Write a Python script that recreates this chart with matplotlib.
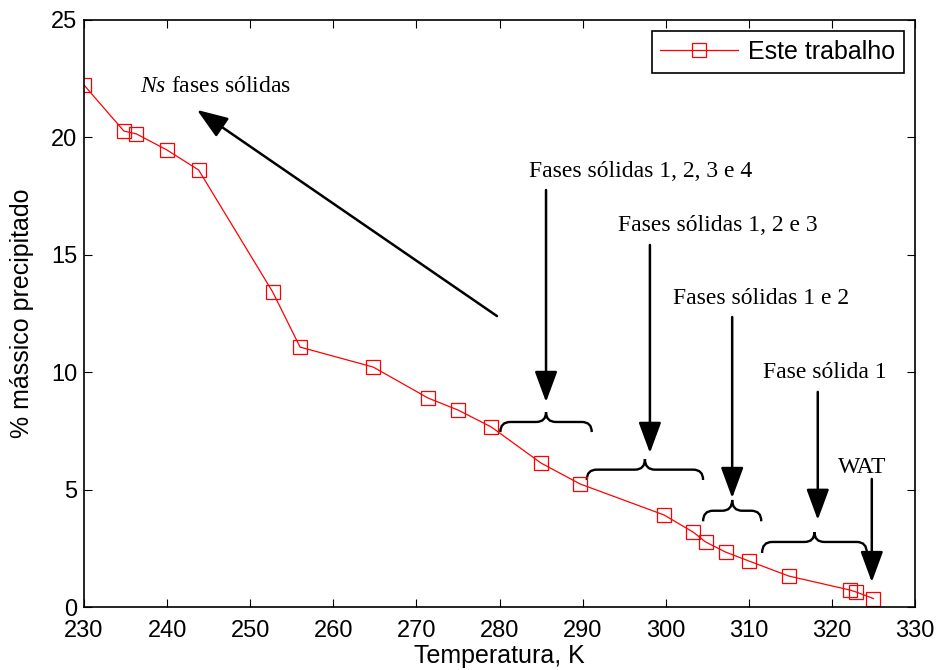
import numpy as np
import matplotlib
matplotlib.use("Agg")
from matplotlib import pyplot as plt
from matplotlib.path import Path
from matplotlib.patches import PathPatch

# data
temperatura = [230.0, 234.8, 236.3, 240.0, 243.8, 252.7, 256.0, 264.8, 271.4, 275.0,
               279.0, 285.0, 289.7, 299.8, 303.3, 304.8, 307.2, 310.0, 314.8, 322.2,
               322.9, 325.0]
precipitado = [22.23, 20.27, 20.15, 19.46, 18.61, 13.42, 11.07, 10.22, 8.90, 8.39,
               7.67, 6.13, 5.24, 3.92, 3.19, 2.77, 2.34, 1.96, 1.32, 0.72,
               0.64, 0.36]

x_ticks = [230, 240, 250, 260, 270, 280, 290, 300, 310, 320, 330]
y_ticks = [0, 5, 10, 15, 20, 25]

# annotations: labels, arrows and braces
labels = ["Fases sólidas 1, 2, 3 e 4", "Fases sólidas 1, 2 e 3",
          "Fases sólidas 1 e 2", "Fase sólida 1", "WAT"]
label_x = [297.0, 306.3, 311.5, 319.2, 323.6]
label_y = [18.53, 16.23, 13.16, 10.0, 5.96]

arrow_x = [285.6, 298.1, 308.0, 318.3, 324.8]
arrow_top = [17.76, 15.42, 12.35, 9.16, 5.45]
arrow_tip = [8.73, 6.56, 4.64, 3.71, 1.06]

brace_x0 = [280.1, 290.5, 304.5, 311.6]
brace_x1 = [291.1, 304.5, 311.5, 324.2]
brace_cusp = [8.30, 6.30, 4.56, 3.19]
brace_bar = [7.88, 5.85, 4.10, 2.77]
brace_end = [7.45, 5.41, 3.65, 2.30]

plt.rcParams['mathtext.fontset'] = 'custom'
plt.rcParams['mathtext.it'] = 'Liberation Serif:italic'
plt.rcParams['mathtext.rm'] = 'Liberation Serif'

fig = plt.figure(figsize=(9.41, 6.70), dpi=100)
ax = fig.add_axes([84 / 941, 1 - 607 / 670, 831 / 941, 587 / 670])

ax.plot(temperatura, precipitado, color="red", lw=0.9, marker="s", markersize=10.5,
        markerfacecolor="none", markeredgecolor="red", markeredgewidth=0.9,
        label="Este trabalho")

ax.set_xlim(230, 330)
ax.set_ylim(0, 25)
ax.set_xticks(x_ticks)
ax.set_yticks(y_ticks)
ax.tick_params(direction="in", top=True, right=True, length=6, width=0.8,
               labelsize=17, pad=5)
ax.tick_params(axis="x", pad=9.5)
for lab in ax.get_xticklabels() + ax.get_yticklabels():
    lab.set_family("Liberation Sans")
for s in ax.spines.values():
    s.set_linewidth(1.2)

ax.set_xlabel("Temperatura, K", fontsize=18, family="Liberation Sans", labelpad=1)
ax.set_ylabel("% mássico precipitado", fontsize=18, family="Liberation Sans", labelpad=12)

leg = ax.legend(loc="upper right", prop={"family": "Liberation Sans", "size": 18},
                handlelength=3.1, handletextpad=0.4, borderpad=0.35,
                borderaxespad=0.45, fancybox=False, framealpha=1)
leg.get_frame().set_edgecolor("black")
leg.get_frame().set_linewidth(1.2)

serif = "Liberation Serif"
head = "-|>,head_length=1.9,head_width=0.7"

# Ns arrow
ax.text(245.8, 22.15, r"$\it{Ns}$ fases sólidas", fontsize=17, family=serif,
        ha="center", va="center")
ax.annotate("", xy=(243.6, 21.17), xytext=(279.7, 12.39),
            arrowprops=dict(arrowstyle=head, mutation_scale=10, lw=1.8,
                            color="black", shrinkA=0, shrinkB=0))

for txt, tx, ty in zip(labels, label_x, label_y):
    ax.text(tx, ty, txt, fontsize=17, family=serif, ha="center", va="center")

for ax_x, top, tip in zip(arrow_x, arrow_top, arrow_tip):
    ax.annotate("", xy=(ax_x, tip), xytext=(ax_x, top),
                arrowprops=dict(arrowstyle=head, mutation_scale=10, lw=1.8,
                                color="black", shrinkA=0, shrinkB=0))


def brace(x0, x1, yc, yb, ye, r=1.2):
    xm = 0.5 * (x0 + x1)
    verts = [(x0, ye), (x0, yb), (x0 + r, yb),
             (xm - r, yb),
             (xm, yb), (xm, yc),
             (xm, yb), (xm + r, yb),
             (x1 - r, yb),
             (x1, yb), (x1, ye)]
    codes = [Path.MOVETO, Path.CURVE3, Path.CURVE3,
             Path.LINETO,
             Path.CURVE3, Path.CURVE3,
             Path.CURVE3, Path.CURVE3,
             Path.LINETO,
             Path.CURVE3, Path.CURVE3]
    ax.add_patch(PathPatch(Path(verts, codes), fill=False, lw=1.7, color="black"))


for b in zip(brace_x0, brace_x1, brace_cusp, brace_bar, brace_end):
    brace(*b)

fig.savefig("out.png", dpi=100)
